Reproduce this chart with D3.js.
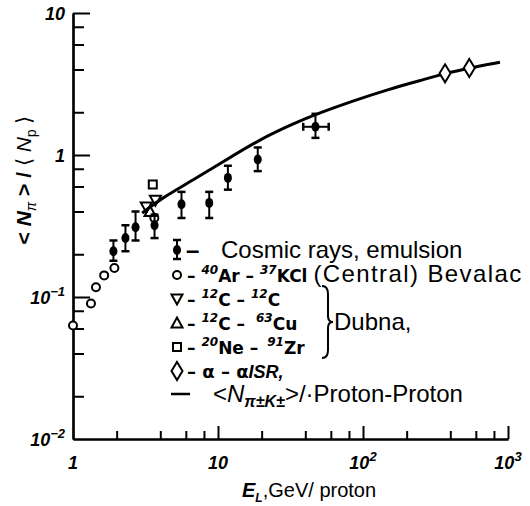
<!DOCTYPE html>
<html>
<head>
<meta charset="utf-8">
<script src="https://cdn.jsdelivr.net/npm/d3@7"></script>
<style>
  body { margin: 0; background: #fff; }
  svg { display: block; }
  text { fill: #000; }
</style>
</head>
<body>
<div id="chart"></div>
<script>
// cosmic rays, emulsion (filled points with error bars)
var cosmicE  = [1.9, 2.3, 2.7, 3.65, 5.6, 8.7, 11.7, 18.8, 47];
var cosmicN  = [0.21, 0.26, 0.31, 0.32, 0.45, 0.46, 0.69, 0.93, 1.58];
var cosmicLo = [0.18, 0.21, 0.25, 0.26, 0.36, 0.36, 0.57, 0.77, 1.32];
var cosmicHi = [0.25, 0.32, 0.40, 0.38, 0.55, 0.55, 0.84, 1.13, 1.95];
var cosmicXerr = [{e: 47, lo: 38.7, hi: 58, n: 1.58}];

// 40Ar - 37KCl Bevalac
var bevalacE = [1.0, 1.33, 1.44, 1.64, 1.93, 3.64];
var bevalacN = [0.063, 0.09, 0.117, 0.142, 0.16, 0.36];
// Dubna
var ccE = [3.2, 3.7];
var ccN = [0.43, 0.48];
var ccuE = [3.4];
var ccuN = [0.40];
var neE = [3.55];
var neN = [0.62];
// alpha-alpha ISR
var isrE = [368, 541];
var isrN = [3.76, 4.1];
// proton-proton curve
var ppE = [3.0, 4, 6.8, 11.5, 19.5, 33, 48, 90, 150, 250, 368, 541, 880];
var ppN = [0.39, 0.49, 0.67, 0.93, 1.29, 1.66, 1.95, 2.45, 2.9, 3.35, 3.76, 4.1, 4.5];

var xMinor = [2, 4, 6, 8, 20, 40, 60, 80, 200, 400, 600, 800];
var xMajor = [10, 100, 1000];
var yMinor = [0.02, 0.04, 0.06, 0.08, 0.2, 0.4, 0.6, 0.8, 2, 4, 6, 8];
var yMajor = [0.1, 1, 10];
var xLabels = [[1, "1", ""], [10, "10", ""], [100, "10", "2"], [1000, "10", "3"]];
var yLabels = [[10, "10", ""], [1, "1", ""], [0.1, "10", "\u22121"], [0.01, "10", "\u22122"]];

var W = 530, H = 506;
var svg = d3.select("#chart").append("svg")
    .attr("width", W).attr("height", H);

var x = d3.scaleLog().domain([1, 1000]).range([73, 508]);
var y = d3.scaleLog().domain([0.01, 10]).range([439, 13]);

var X0 = x(1), Y0 = y(0.01);

// axes: ticks point inward
function styleAxis(g) {
    g.selectAll("path.domain").attr("stroke-width", 2.2);
    g.selectAll("line").attr("stroke-width", 2);
    g.selectAll("text").remove();
}
svg.append("g").attr("transform", "translate(0," + Y0 + ")")
    .call(d3.axisBottom(x).tickValues(xMinor).tickSize(-8).tickSizeOuter(0))
    .call(styleAxis);
svg.append("g").attr("transform", "translate(0," + Y0 + ")")
    .call(d3.axisBottom(x).tickValues(xMajor).tickSize(-13).tickSizeOuter(0))
    .call(styleAxis);
svg.append("g").attr("transform", "translate(" + X0 + ",0)")
    .call(d3.axisLeft(y).tickValues(yMinor).tickSize(-11).tickSizeOuter(0))
    .call(styleAxis);
svg.append("g").attr("transform", "translate(" + X0 + ",0)")
    .call(d3.axisLeft(y).tickValues(yMajor).tickSize(-17).tickSizeOuter(0))
    .call(styleAxis);

var tickFont = "'Liberation Sans', Arial, sans-serif";
xLabels.forEach(function(l) {
    var t = svg.append("text")
        .attr("x", x(l[0])).attr("y", Y0 + 30)
        .attr("text-anchor", "middle")
        .style("font-family", tickFont).style("font-style", "italic")
        .style("font-weight", "bold").style("font-size", "18px");
    t.append("tspan").text(l[1]);
    if (l[2]) t.append("tspan").attr("dy", -8).style("font-size", "13px").text(l[2]);
});
yLabels.forEach(function(l) {
    var t = svg.append("text")
        .attr("x", X0 - 8).attr("y", y(l[0]) + 7)
        .attr("text-anchor", "end")
        .style("font-family", tickFont).style("font-style", "italic")
        .style("font-weight", "bold").style("font-size", "18px");
    t.append("tspan").text(l[1]);
    if (l[2]) t.append("tspan").attr("dy", -8).style("font-size", "13px").text(l[2]);
});

// axis titles
var xt = svg.append("text").attr("x", 242).attr("y", 497)
    .style("font-family", tickFont).style("font-size", "20px");
xt.append("tspan").style("font-style", "italic").style("font-weight", "bold").text("E");
xt.append("tspan").attr("dy", 5).style("font-size", "12px").style("font-style", "italic")
    .style("font-weight", "bold").text("L");
xt.append("tspan").attr("dy", -5).text(",GeV/ proton");

var yt = svg.append("text")
    .attr("transform", "translate(31,180) rotate(-90)")
    .attr("text-anchor", "middle")
    .style("font-family", tickFont).style("font-size", "21px");
yt.append("tspan").style("font-weight", "bold").text("< ");
yt.append("tspan").style("font-style", "italic").style("font-weight", "bold").text("N");
yt.append("tspan").attr("dy", 5).style("font-size", "14px").style("font-style", "italic").text("\u03c0");
yt.append("tspan").attr("dy", -5).style("font-weight", "bold").text(" > ");
yt.append("tspan").style("font-weight", "bold").text("/ ");
yt.append("tspan").text("\u27e8 ");
yt.append("tspan").style("font-style", "italic").text("N");
yt.append("tspan").attr("dy", 5).style("font-size", "14px").text("p");
yt.append("tspan").attr("dy", -5).text(" \u27e9");

// proton-proton curve
var line = d3.line().x(function(d) { return x(d[0]); }).y(function(d) { return y(d[1]); })
    .curve(d3.curveBasis);
svg.append("path").datum(d3.zip(ppE, ppN))
    .attr("d", line).attr("fill", "none").attr("stroke", "#000").attr("stroke-width", 3);

// marker helpers
function errSymbol(g, cx, cy, top, bot) {
    g.append("line").attr("x1", cx).attr("x2", cx).attr("y1", top).attr("y2", bot)
        .attr("stroke", "#000").attr("stroke-width", 2);
    [top, bot].forEach(function(v) {
        g.append("line").attr("x1", cx - 4).attr("x2", cx + 4).attr("y1", v).attr("y2", v)
            .attr("stroke", "#000").attr("stroke-width", 2.5);
    });
    g.append("ellipse").attr("cx", cx).attr("cy", cy).attr("rx", 4).attr("ry", 5).attr("fill", "#000");
}
function openCircle(g, cx, cy) {
    g.append("circle").attr("cx", cx).attr("cy", cy).attr("r", 4)
        .attr("fill", "#fff").attr("stroke", "#000").attr("stroke-width", 2);
}
function triangle(g, cx, cy, down) {
    var s = down ? 1 : -1;
    g.append("path")
        .attr("d", "M" + (cx - 5.5) + "," + (cy - 4.5 * s) + "L" + (cx + 5.5) + "," + (cy - 4.5 * s) +
            "L" + cx + "," + (cy + 5.5 * s) + "Z")
        .attr("fill", "none").attr("stroke", "#000").attr("stroke-width", 2);
}
function square(g, cx, cy) {
    g.append("rect").attr("x", cx - 4).attr("y", cy - 4).attr("width", 8).attr("height", 8)
        .attr("fill", "#fff").attr("stroke", "#000").attr("stroke-width", 2);
}
function diamond(g, cx, cy) {
    g.append("path")
        .attr("d", "M" + cx + "," + (cy - 9) + "L" + (cx + 5.5) + "," + cy + "L" + cx + "," + (cy + 9) +
            "L" + (cx - 5.5) + "," + cy + "Z")
        .attr("fill", "#fff").attr("stroke", "#000").attr("stroke-width", 2);
}

var pts = svg.append("g");
bevalacE.forEach(function(e, i) { openCircle(pts, x(e), y(bevalacN[i])); });
ccE.forEach(function(e, i) { triangle(pts, x(e), y(ccN[i]), true); });
ccuE.forEach(function(e, i) { triangle(pts, x(e), y(ccuN[i]), false); });
neE.forEach(function(e, i) { square(pts, x(e), y(neN[i])); });
cosmicE.forEach(function(e, i) {
    errSymbol(pts, x(e), y(cosmicN[i]), y(cosmicHi[i]), y(cosmicLo[i]));
});
cosmicXerr.forEach(function(d) {
    var cy = y(d.n);
    pts.append("line").attr("x1", x(d.lo)).attr("x2", x(d.hi)).attr("y1", cy).attr("y2", cy)
        .attr("stroke", "#000").attr("stroke-width", 2);
    [d.lo, d.hi].forEach(function(v) {
        pts.append("line").attr("x1", x(v)).attr("x2", x(v)).attr("y1", cy - 4).attr("y2", cy + 4)
            .attr("stroke", "#000").attr("stroke-width", 2.5);
    });
});
isrE.forEach(function(e, i) { diamond(pts, x(e), y(isrN[i])); });

// legend
var lg = svg.append("g");
var lx = 177, base0 = 258, dr = 24;
var sans = "'Liberation Sans', Arial, sans-serif";
var chem = "'DejaVu Sans', sans-serif";
function rowB(i) { return base0 + i * dr; }

errSymbol(lg, lx, rowB(0) - 8, rowB(0) - 18, rowB(0) + 1);
openCircle(lg, lx, rowB(1) - 7);
triangle(lg, lx, rowB(2) - 7, true);
triangle(lg, lx, rowB(3) - 7, false);
square(lg, lx, rowB(4) - 7);
diamond(lg, lx, rowB(5) - 7);
lg.append("line").attr("x1", lx - 6).attr("x2", lx + 13).attr("y1", rowB(6) - 8).attr("y2", rowB(6) - 8)
    .attr("stroke", "#000").attr("stroke-width", 2.5);

function txt(xp, yp, fam, size) {
    return lg.append("text").attr("x", xp).attr("y", yp)
        .style("font-family", fam).style("font-size", size + "px");
}
function sup(t, s, dx) {
    t.append("tspan").attr("dx", dx || 0).attr("dy", -8).style("font-size", "12px")
        .style("font-style", "italic").text(s);
}
function base(t, s) { return t.append("tspan").attr("dy", 8).text(s); }

var t0 = txt(lx + 9, rowB(0), sans, 24);
t0.append("tspan").style("font-weight", "bold").text("\u2013 ");
t0.append("tspan").attr("x", 221).text("Cosmic rays, emulsion");

var t1 = txt(lx + 10, rowB(1), chem, 17).style("font-weight", "bold");
t1.append("tspan").text("\u2013 ");
sup(t1, "40"); base(t1, "Ar \u2013 ");
sup(t1, "37"); base(t1, "KCl");
var t1box = t1.node().getBBox();
txt(t1box.x + t1box.width + 6, rowB(1), sans, 24)
    .style("letter-spacing", "1.4px")
    .text("(Central) Bevalac");

var t2 = txt(lx + 10, rowB(2), chem, 17).style("font-weight", "bold");
t2.append("tspan").text("\u2013 ");
sup(t2, "12"); base(t2, "C \u2013 ");
sup(t2, "12"); base(t2, "C");

var t3 = txt(lx + 10, rowB(3), chem, 17).style("font-weight", "bold");
t3.append("tspan").text("\u2013 ");
sup(t3, "12"); base(t3, "C \u2013 ");
sup(t3, "63", 5); base(t3, "Cu");

var t4 = txt(lx + 10, rowB(4), chem, 17).style("font-weight", "bold");
t4.append("tspan").text("\u2013 ");
sup(t4, "20"); base(t4, "Ne \u2013 ");
sup(t4, "91", 3); base(t4, "Zr");

// brace for Dubna group
var bx = 322, bt = rowB(2) - 20, bb = rowB(4) + 4, bm = (bt + bb) / 2;
lg.append("path")
    .attr("d", "M" + bx + "," + bt + "Q" + (bx + 6) + "," + bt + " " + (bx + 6) + "," + (bt + 8) +
        "L" + (bx + 6) + "," + (bm - 6) + "Q" + (bx + 6) + "," + bm + " " + (bx + 11) + "," + bm +
        "Q" + (bx + 6) + "," + bm + " " + (bx + 6) + "," + (bm + 6) +
        "L" + (bx + 6) + "," + (bb - 8) + "Q" + (bx + 6) + "," + bb + " " + bx + "," + bb)
    .attr("fill", "none").attr("stroke", "#000").attr("stroke-width", 2);
txt(bx + 12, rowB(3), sans, 24).text("Dubna,");

var t5 = txt(lx + 10, rowB(5), chem, 18).style("font-weight", "bold");
t5.append("tspan").text("\u2013 \u03b1 \u2013 \u03b1");
t5.append("tspan").style("font-style", "italic").style("font-family", sans).text("ISR,");

var t6 = txt(213, rowB(6), sans, 24);
t6.append("tspan").text("<");
t6.append("tspan").style("font-style", "italic").text("N");
t6.append("tspan").attr("dy", 5).style("font-size", "16px").style("font-style", "italic")
    .style("font-weight", "bold").text("\u03c0\u00b1K\u00b1");
t6.append("tspan").attr("dy", -5).text(">/");
t6.append("tspan").text("\u00b7Proton-Proton");
</script>
</body>
</html>
